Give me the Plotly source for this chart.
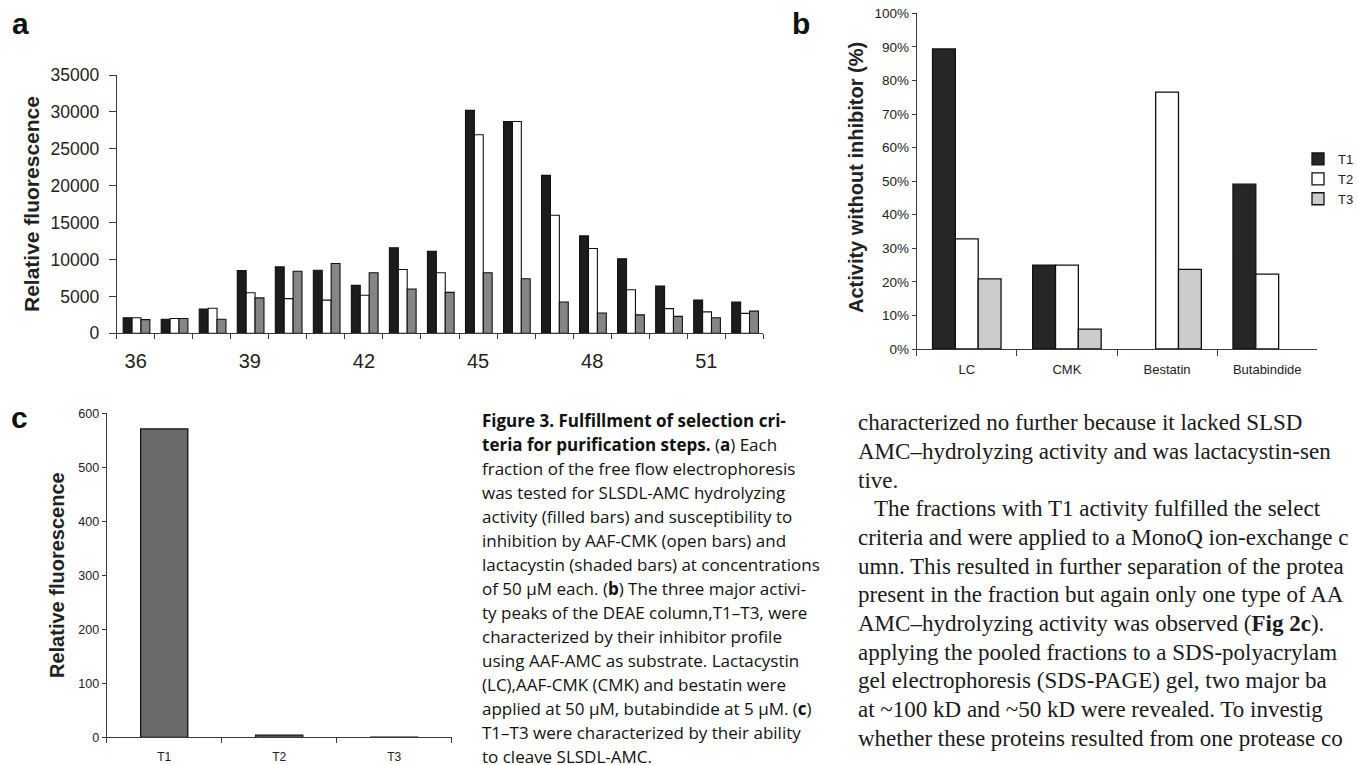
import plotly.graph_objects as go

W, H = 1358, 765

# ---------------- data ----------------
fractions = list(range(36, 53))
a_t1 = [2100, 1900, 3300, 8500, 9000, 8550, 6500, 11600, 11100, 30200, 28700, 21400, 13200, 10100, 6400, 4500, 4250]
a_t2 = [2100, 2000, 3400, 5500, 4700, 4500, 5150, 8650, 8200, 26900, 28700, 16000, 11500, 5900, 3350, 2900, 2700]
a_t3 = [1850, 2000, 1900, 4800, 8400, 9450, 8200, 6000, 5550, 8200, 7400, 4250, 2750, 2500, 2300, 2100, 3000]
a_ticks = [36, 39, 42, 45, 48, 51]

b_inhibitors = ["LC", "CMK", "Bestatin", "Butabindide"]
b_t1 = [0.894, 0.25, None, 0.491]
b_t2 = [0.328, 0.25, 0.765, 0.223]
b_t3 = [0.209, 0.059, 0.237, None]

c_peaks = ["T1", "T2", "T3"]
c_values = [571, 4, 0.5]

caption_lines = [
    "<b>Figure 3. Fulfillment of selection cri-</b>",
    "<b>teria for purification steps.</b> (<b>a</b>) Each",
    "fraction of the free flow electrophoresis",
    "was tested for SLSDL-AMC hydrolyzing",
    "activity (filled bars) and susceptibility to",
    "inhibition by AAF-CMK (open bars) and",
    "lactacystin (shaded bars) at concentrations",
    "of 50 µM each. (<b>b</b>) The three major activi-",
    "ty peaks of the DEAE column,T1–T3, were",
    "characterized by their inhibitor profile",
    "using AAF-AMC as substrate. Lactacystin",
    "(LC),AAF-CMK (CMK) and bestatin were",
    "applied at 50 µM, butabindide at 5 µM. (<b>c</b>)",
    "T1–T3 were characterized by their ability",
    "to cleave SLSDL-AMC.",
]

# body text as visible in the (cropped) page
body_lines = [
    "characterized no further because it lacked SLSD",
    "AMC–hydrolyzing activity and was lactacystin-sen",
    "tive.",
    "The fractions with T1 activity fulfilled the select",
    "criteria and were applied to a MonoQ ion-exchange c",
    "umn. This resulted in further separation of the protea",
    "present in the fraction but again only one type of AA",
    "AMC–hydrolyzing activity was observed (<b>Fig 2c</b>).",
    "applying the pooled fractions to a SDS-polyacrylam",
    "gel electrophoresis (SDS-PAGE) gel, two major ba",
    "at ~100 kD and ~50 kD were revealed. To investig",
    "whether these proteins resulted from one protease co",
]

# ---------------- helpers ----------------
def px_x(x):
    return x / W

def px_y(y):
    return 1 - y / H

AX = "#3a3a3a"
SANS = "Liberation Sans, Arial, sans-serif"

fig = go.Figure()

# ---------------- panel a ----------------
a_styles = [("#1c1c1c", -0.33), ("#ffffff", -0.096), ("#858585", 0.138)]
for name, vals, (col, off) in zip(["T1", "T2", "T3"], [a_t1, a_t2, a_t3], a_styles):
    fig.add_trace(go.Bar(
        x=fractions, y=vals, name=name, width=0.234, offset=off,
        marker=dict(color=col, line=dict(color="#111", width=1.1)),
        xaxis="x", yaxis="y", showlegend=False))

# ---------------- panel b ----------------
b_styles = [("#262626", -0.342), ("#ffffff", -0.114), ("#cccccc", 0.114)]
for name, vals, (col, off) in zip(["T1", "T2", "T3"], [b_t1, b_t2, b_t3], b_styles):
    fig.add_trace(go.Bar(
        x=b_inhibitors, y=vals, name=name, width=0.228, offset=off,
        marker=dict(color=col, line=dict(color="#111", width=1.3)),
        xaxis="x2", yaxis="y2", showlegend=True))

# ---------------- panel c ----------------
fig.add_trace(go.Bar(
    x=c_peaks, y=c_values, width=0.41, offset=-0.205,
    marker=dict(color="#6a6a6a", line=dict(color="#111", width=1.3)),
    xaxis="x3", yaxis="y3", showlegend=False))

common_line = dict(showline=True, linecolor=AX, linewidth=1, showgrid=False,
                   zeroline=False, tickcolor=AX, tickwidth=1, automargin=False)

fig.update_layout(
    width=W, height=H, margin=dict(l=0, r=0, t=0, b=0, pad=0, autoexpand=False),
    paper_bgcolor="white", plot_bgcolor="white",
    barmode="overlay",
    font=dict(family=SANS, color="#222"),
    xaxis=dict(domain=[px_x(116.7), px_x(763.3)], anchor="y", range=[35.5, 52.5],
               tickmode="array", tickvals=a_ticks, ticks="",
               tickfont=dict(size=20, color="#222"), ticklabelstandoff=10,
               minor=dict(ticks="outside", ticklen=5, tick0=35.5, dtick=1, tickcolor=AX),
               **common_line),
    yaxis=dict(domain=[px_y(333.3), px_y(75)], anchor="x", range=[0, 35000],
               dtick=5000, tickformat="d", ticks="outside", ticklen=7,
               ticklabelstandoff=6,
               tickfont=dict(size=17.5, color="#222"), **common_line),
    xaxis2=dict(domain=[px_x(916.7), px_x(1317.3)], anchor="y2", range=[-0.5, 3.5],
                type="category", tickson="boundaries", ticks="outside", ticklen=6,
                tickfont=dict(size=13, color="#222"), ticklabelstandoff=8,
                **common_line),
    yaxis2=dict(domain=[px_y(349), px_y(13.3)], anchor="x2", range=[0, 1],
                dtick=0.1, tickformat=".0%", ticks="outside", ticklen=4,
                tickfont=dict(size=13.5, color="#222"), **common_line),
    xaxis3=dict(domain=[px_x(106.7), px_x(451.7)], anchor="y3", range=[-0.5, 2.5],
                type="category", tickson="boundaries", ticks="outside", ticklen=5,
                tickfont=dict(size=12, color="#222"), ticklabelstandoff=8,
                **common_line),
    yaxis3=dict(domain=[px_y(737.3), px_y(413.3)], anchor="x3", range=[0, 600],
                dtick=100, ticks="outside", ticklen=4,
                tickfont=dict(size=12.5, color="#222"), **common_line),
    legend=dict(x=px_x(1298), xanchor="left", y=px_y(144), yanchor="top",
                bgcolor="rgba(0,0,0,0)", font=dict(size=13, color="#222"),
                tracegroupgap=0),
)

LETTER_FONT = dict(family="Liberation Sans, Arial, sans-serif", size=30, color="#111")
ann = []
# panel letters
ann.append(dict(text="<b>a</b>", x=px_x(20), y=px_y(5), xref="paper", yref="paper",
                xanchor="center", yanchor="top", showarrow=False, font=LETTER_FONT))
ann.append(dict(text="<b>b</b>", x=px_x(801), y=px_y(5), xref="paper", yref="paper",
                xanchor="center", yanchor="top", showarrow=False, font=LETTER_FONT))
ann.append(dict(text="<b>c</b>", x=px_x(19), y=px_y(399), xref="paper", yref="paper",
                xanchor="center", yanchor="top", showarrow=False, font=LETTER_FONT))
# axis titles
for txt, cx, cy, sz in [("Relative fluorescence", 32, 204, 21),
                        ("Activity without inhibitor (%)", 856, 178, 20),
                        ("Relative fluorescence", 57, 575, 20)]:
    ann.append(dict(text=f"<b>{txt}</b>", x=px_x(cx), y=px_y(cy), xref="paper", yref="paper",
                    xanchor="center", yanchor="middle", textangle=-90, showarrow=False,
                    font=dict(family=SANS, size=sz, color="#222")))
# caption
for i, line in enumerate(caption_lines):
    ann.append(dict(text=line, x=px_x(480), y=px_y(420 + 24 * i), xref="paper", yref="paper",
                    xanchor="left", yanchor="middle", showarrow=False,
                    font=dict(family="Open Sans, sans-serif", size=17, color="#111")))
# body text
for i, line in enumerate(body_lines):
    x0 = 872 if i == 3 else 856
    ann.append(dict(text=line, x=px_x(x0), y=px_y(422.6 + 28.7 * i), xref="paper", yref="paper",
                    xanchor="left", yanchor="middle", showarrow=False,
                    font=dict(family="Liberation Serif, Times New Roman, serif", size=23, color="#1a1a1a")))
fig.update_layout(annotations=ann)

fig.write_html("out.html",
               config={"displayModeBar": False},
               post_script="document.body.style.margin='0';document.body.style.overflow='hidden';")
